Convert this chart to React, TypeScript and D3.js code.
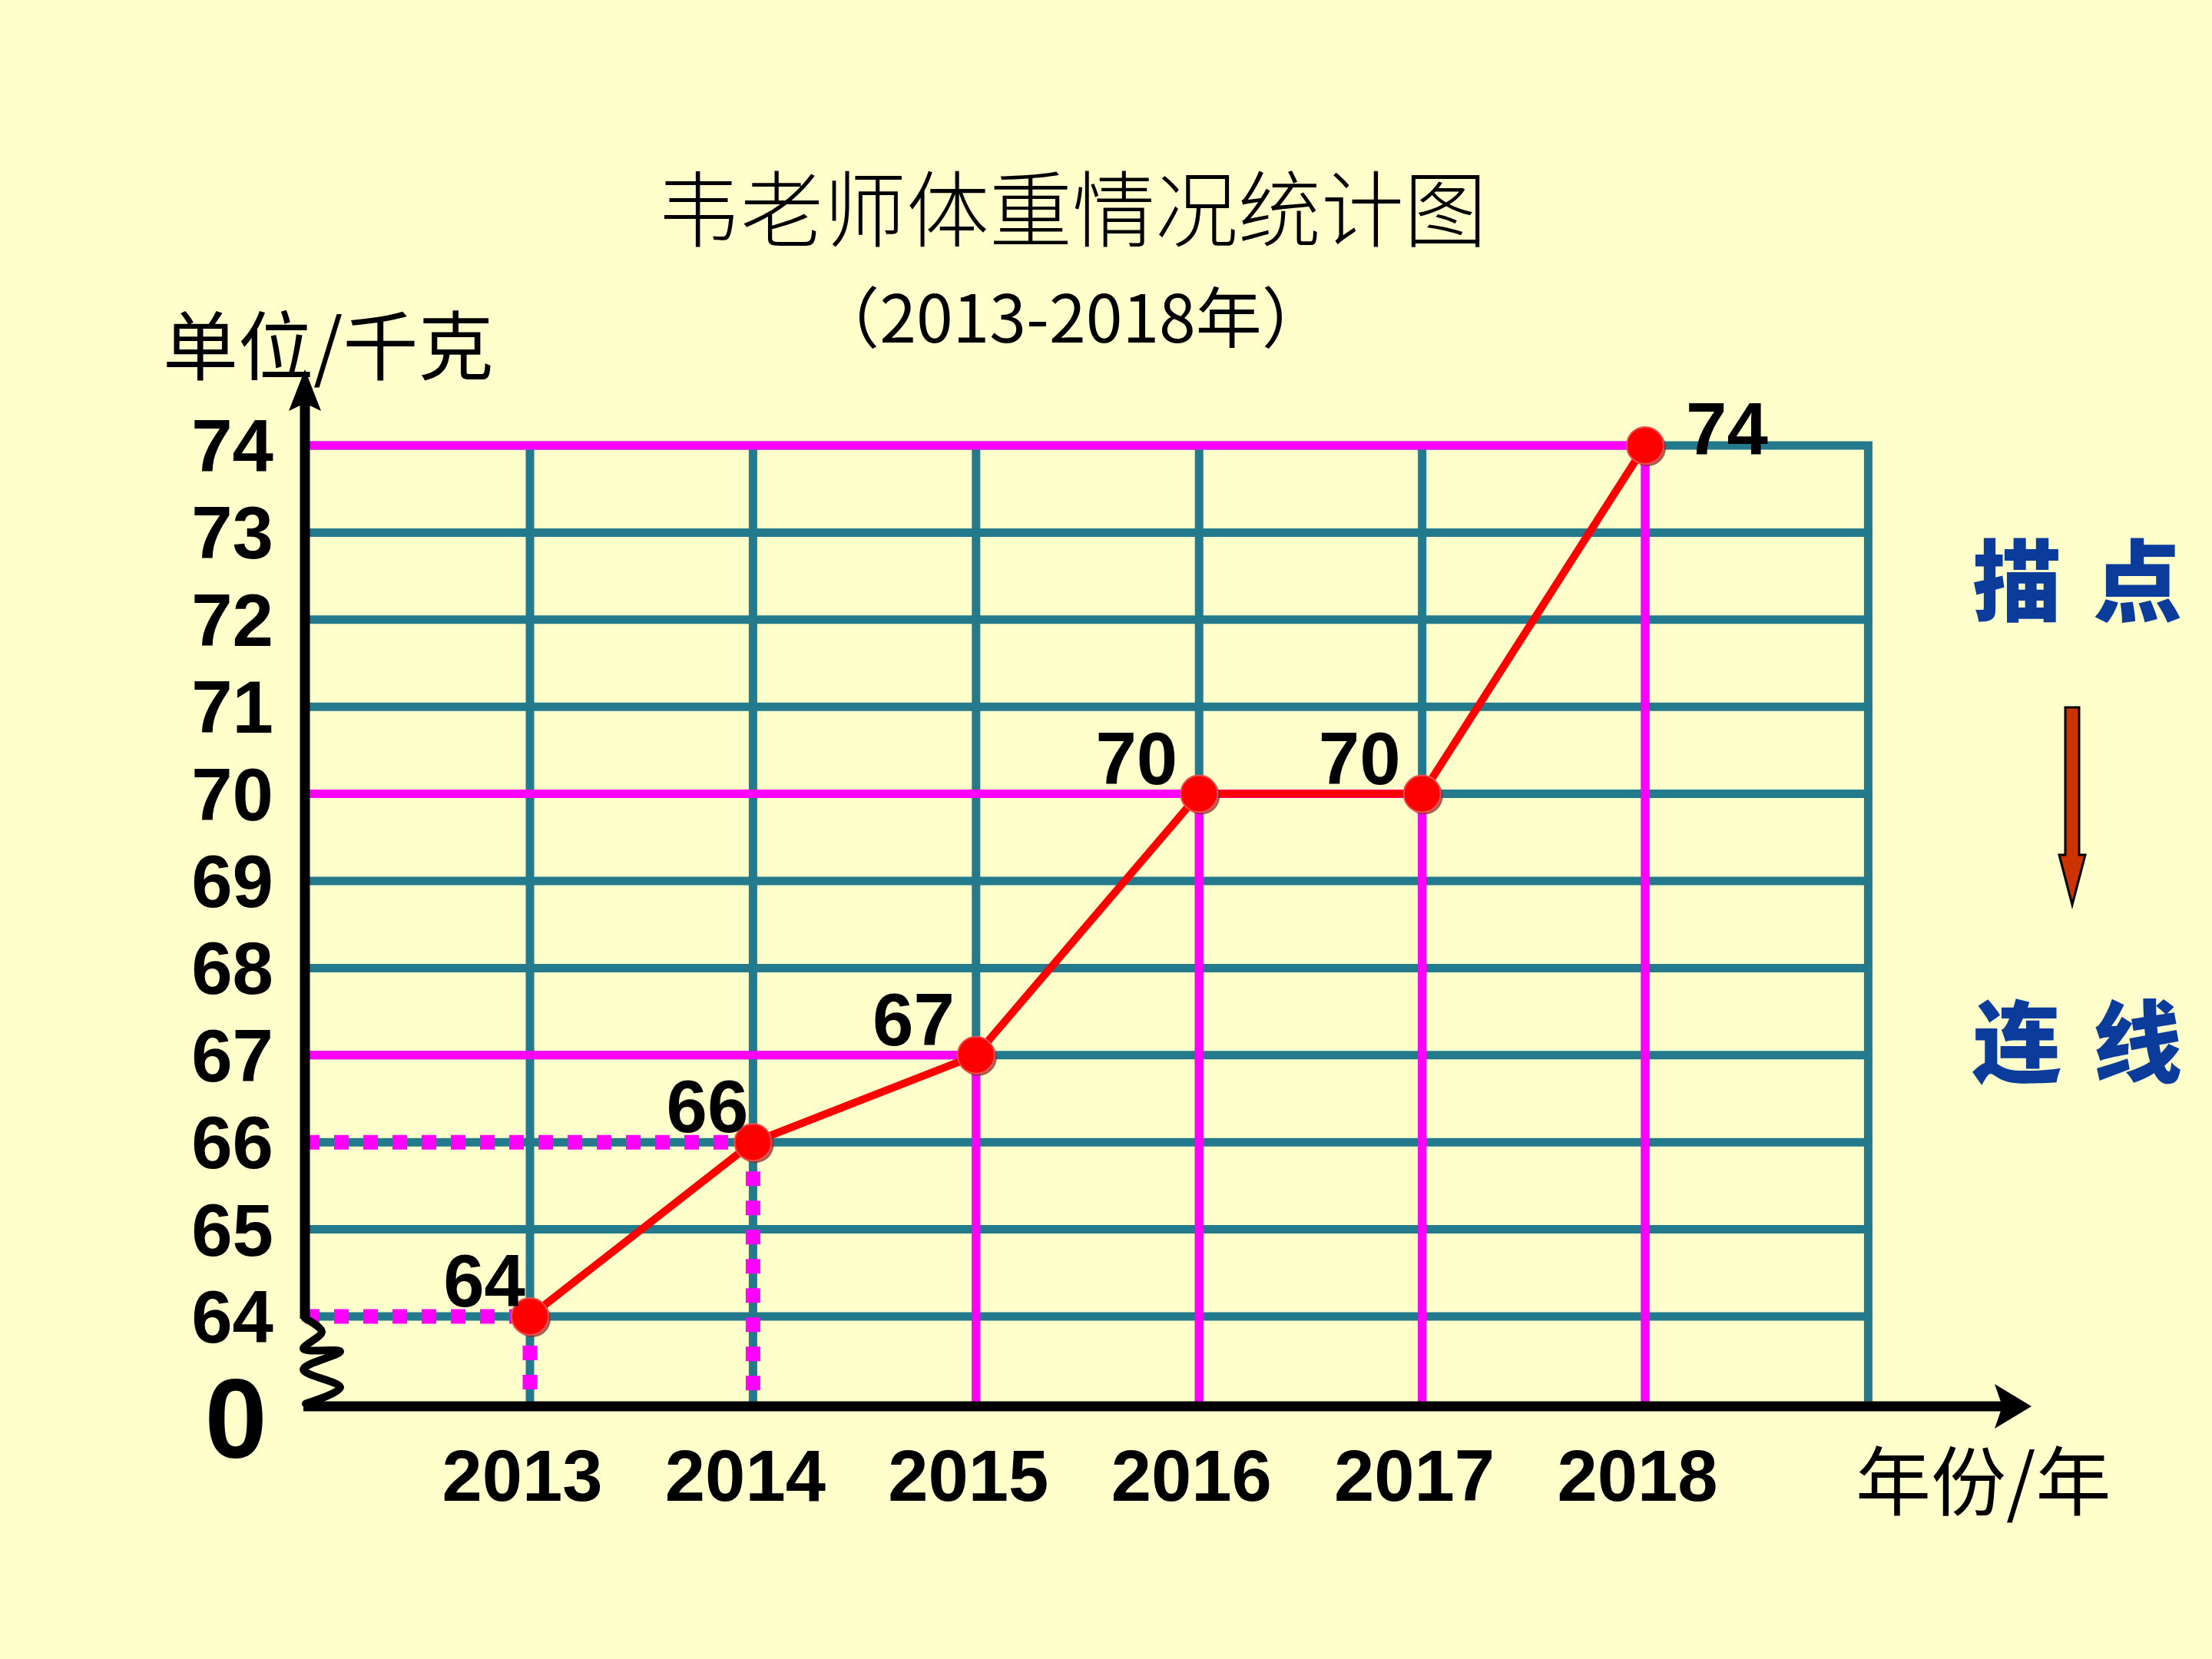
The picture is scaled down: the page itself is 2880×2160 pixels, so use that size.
import React from 'react';
import * as d3 from 'd3';

// weight record, one value per year
const years = [2013, 2014, 2015, 2016, 2017, 2018];
const weights = [64, 66, 67, 70, 70, 74];
const yTicks = [64, 65, 66, 67, 68, 69, 70, 71, 72, 73, 74];

const title = '韦老师体重情况统计图';
const subtitle = '（2013-2018年）';
const yUnit = '单位/千克';
const xUnit = '年份/年';
const steps = ['描点', '连线'];

const W = 2880;
const H = 2160;
const TEAL = '#237a8d';
const MAGENTA = '#ff00ff';
const RED = '#ff0000';
const NUM_FONT = '"Liberation Sans", Arial, sans-serif';
const CJK_FONT = '"Noto Sans CJK SC", sans-serif';

export default function App() {
  const x = d3.scaleLinear().domain([2013, 2018]).range([690, 2142]);
  const y = d3.scaleLinear().domain([64, 74]).range([1714, 580]);

  const originX = 397;
  const baseY = 1831; // x axis drawn below the broken part of the y axis
  const gridRight = x(2019);
  const yTop = y(74);

  const pts = years.map((yr, i) => ({ yr, v: weights[i], px: x(yr), py: y(weights[i]) }));

  const line = d3.line<{ px: number; py: number }>().x(d => d.px).y(d => d.py);

  // zigzag break between the lowest tick and the x axis
  const gap = baseY - y(64);
  const zig: [number, number][] = [
    [0, 0.02], [22, 0.17], [-2, 0.36], [46, 0.39], [-2, 0.59], [46, 0.79], [1, 0.97],
  ];
  const zigPath = d3.line<[number, number]>()
    .x(d => originX + d[0])
    .y(d => y(64) + d[1] * gap)
    .curve(d3.curveCatmullRom.alpha(0.5))(zig) || '';

  const xArrowTip = 2645;
  const yArrowTip = 481;

  return (
    <svg width={W} height={H} style={{ position: 'absolute', left: 0, top: 0 }}>
      <rect width={W} height={H} fill="#ffffcc" />

      {/* titles */}
      <text x={1396} y={313} textAnchor="middle" fontFamily={CJK_FONT} fontWeight={300} fontSize={108} fill="#000">
        {title}
      </text>
      <text x={1394} y={446} textAnchor="middle" fontFamily={CJK_FONT} fontSize={86} fill="#000">
        {subtitle}
      </text>
      <text x={212} y={487} fontFamily={CJK_FONT} fontSize={98} fill="#000">{yUnit}</text>
      <text x={2416} y={1965} fontFamily={CJK_FONT} fontSize={98} fill="#000">{xUnit}</text>

      {/* teal grid */}
      <g stroke={TEAL} strokeWidth={11}>
        {yTicks.map(t => (
          <line key={'h' + t} x1={originX} x2={gridRight + 5} y1={y(t)} y2={y(t)} />
        ))}
        {[...years, 2019].map(yr => (
          <line key={'v' + yr} x1={x(yr)} x2={x(yr)} y1={yTop - 5} y2={baseY} />
        ))}
      </g>

      {/* magenta guides from each point to both axes */}
      <g stroke={MAGENTA} fill="none">
        {pts.map((p, i) => {
          const dashed = i < 2;
          const sw = dashed ? 19 : 11;
          const da = dashed ? '19 19' : undefined;
          return (
            <g key={'g' + p.yr} strokeWidth={sw} strokeDasharray={da}>
              <line x1={originX} x2={p.px} y1={p.py} y2={p.py} />
              <line x1={p.px} x2={p.px} y1={p.py} y2={baseY - 6} />
            </g>
          );
        })}
      </g>

      {/* axes */}
      <g stroke="#000" fill="none" strokeWidth={13}>
        <line x1={originX} x2={originX} y1={y(64) + 3} y2={yArrowTip + 40} />
        <line x1={originX - 2} x2={xArrowTip - 38} y1={baseY} y2={baseY} />
        <path d={zigPath} strokeWidth={10} strokeLinecap="round" strokeLinejoin="round" />
      </g>
      <path
        d={`M${originX},${yArrowTip} L${originX + 21},${yArrowTip + 54} L${originX},${yArrowTip + 44} L${originX - 21},${yArrowTip + 54} Z`}
        fill="#000"
      />
      <path
        d={`M${xArrowTip},${baseY} L${xArrowTip - 48},${baseY + 29} L${xArrowTip - 38},${baseY} L${xArrowTip - 48},${baseY - 29} Z`}
        fill="#000"
      />

      {/* tick labels */}
      <g fontFamily={NUM_FONT} fontWeight="bold" fill="#000">
        {yTicks.map(t => (
          <text key={'yt' + t} x={356} y={y(t) + 34} textAnchor="end" fontSize={96}>{t}</text>
        ))}
        {years.map(yr => (
          <text key={'xt' + yr} x={x(yr) - 10} y={1954} textAnchor="middle" fontSize={94}>{yr}</text>
        ))}
        <text x={307} y={1898} textAnchor="middle" fontSize={146}>0</text>
      </g>

      {/* weight line and points */}
      <path d={line(pts) || ''} fill="none" stroke={RED} strokeWidth={10} strokeLinejoin="round" />
      {pts.map(p => (
        <g key={'pt' + p.yr}>
          <circle cx={p.px + 3} cy={p.py + 3} r={24} fill="#8a2a2a" opacity={0.75} />
          <circle cx={p.px} cy={p.py} r={24} fill={RED} stroke="#e85050" strokeWidth={2} />
        </g>
      ))}

      {/* value labels */}
      <g fontFamily={NUM_FONT} fontWeight="bold" fontSize={96} fill="#000">
        {pts.map((p, i) => {
          const last = i === pts.length - 1;
          return (
            <text
              key={'lb' + p.yr}
              x={last ? p.px + 53 : p.px - (i < 2 ? 6 : 28)}
              y={last ? p.py + 12 : p.py - 13}
              textAnchor={last ? 'start' : 'end'}
            >
              {p.v}
            </text>
          );
        })}
      </g>

      {/* step hints on the right */}
      <g fontFamily={CJK_FONT} fontWeight={900} fontSize={116} fill="#0b3c9c" textAnchor="middle">
        {steps.map((s, i) => (
          <g key={s}>
            <text x={2626} y={i === 0 ? 800 : 1400}>{s[0]}</text>
            <text x={2783} y={i === 0 ? 800 : 1400}>{s[1]}</text>
          </g>
        ))}
      </g>
      <path
        d="M2689,921 L2707,921 L2707,1113 L2715,1113 L2698,1178 L2681,1113 L2689,1113 Z"
        fill="#cc3300"
        stroke="#000"
        strokeWidth={3}
        strokeLinejoin="miter"
      />
    </svg>
  );
}
